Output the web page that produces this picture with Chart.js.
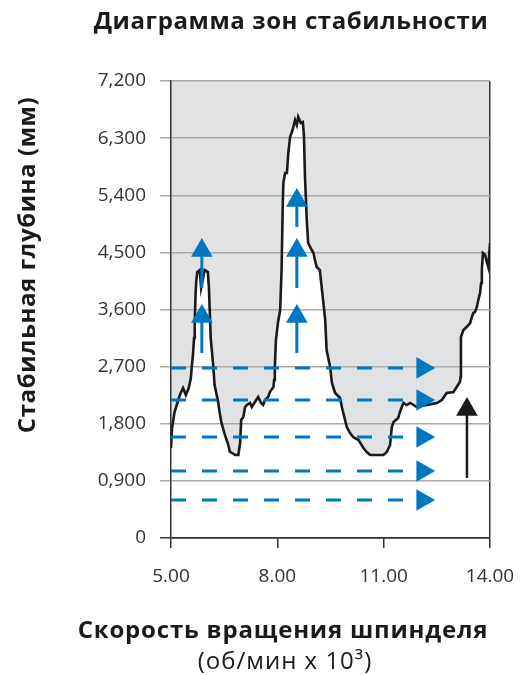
<!DOCTYPE html>
<html>
<head>
<meta charset="utf-8">
<script src="https://cdn.jsdelivr.net/npm/chart.js@4"></script>
<style>
  html, body { margin: 0; padding: 0; background: #fff; }
  #wrap { width: 522px; height: 675px; position: relative; }
</style>
</head>
<body>
<div id="wrap"><canvas id="chart"></canvas></div>
<script>
// values
const curveX = [5.00, 5.03, 5.10, 5.25, 5.34, 5.42, 5.50, 5.56, 5.59, 5.62, 5.65, 5.67, 5.69, 5.71, 5.74, 5.81, 5.85, 5.95, 6.04, 6.07,
  6.09, 6.12, 6.19, 6.23, 6.33, 6.37, 6.42, 6.52, 6.61, 6.66, 6.72, 6.81, 6.90, 6.95, 6.98, 7.04, 7.09, 7.14, 7.23, 7.28,
  7.37, 7.46, 7.54, 7.60, 7.65, 7.74, 7.79, 7.89, 7.91, 7.93, 7.96, 8.02, 8.08, 8.12, 8.15, 8.17, 8.22, 8.27, 8.31, 8.36,
  8.43, 8.50, 8.55, 8.59, 8.66, 8.72, 8.75, 8.78, 8.83, 8.87, 8.97, 9.02, 9.06, 9.11, 9.20, 9.25, 9.30, 9.35, 9.39, 9.49,
  9.54, 9.63, 9.77, 9.82, 9.91, 9.96, 10.05, 10.14, 10.29, 10.43, 10.52, 10.62, 10.99, 11.09, 11.18, 11.23, 11.28, 11.41, 11.46, 11.51,
  11.56, 11.65, 11.75, 11.93, 12.22, 12.50, 12.64, 12.78, 12.97, 13.06, 13.15, 13.17, 13.18, 13.25, 13.34, 13.44, 13.48, 13.53, 13.58, 13.63,
  13.67, 13.72, 13.75, 13.77, 13.80, 13.86, 13.91, 13.95, 13.98, 14.00];
const curveY = [1418, 1733, 1985, 2253, 2363, 2253, 2363, 2520, 2725, 2883, 3150, 3403, 3781, 4033, 4190, 4222, 3940, 4222, 4190, 3940,
  3623, 3150, 2725, 2410, 2143, 1985, 1828, 1623, 1480, 1360, 1339, 1308, 1308, 1497, 1859, 1906, 2064, 2095, 2127, 2064,
  2143, 2221, 2127, 2095, 2174, 2221, 2300, 2379, 2489, 2694, 3119, 3400, 3592, 4222, 5168, 5593, 5750, 5750, 6066, 6318,
  6428, 6585, 6507, 6633, 6538, 6554, 6349, 5687, 5010, 4648, 4537, 4490, 4380, 4270, 4222, 3955, 3702, 3435, 2962, 2694,
  2442, 2285, 2206, 2064, 1859, 1749, 1654, 1591, 1544, 1418, 1355, 1308, 1308, 1355, 1465, 1749, 1828, 1890, 1985, 2064,
  2127, 2095, 2127, 2064, 2095, 2127, 2174, 2285, 2300, 2379, 2458, 2537, 3167, 3277, 3324, 3387, 3466, 3545, 3561, 3639,
  3750, 3860, 4018, 4222, 4490, 4459, 4348, 4270, 4490, 4648];

const yTickValues = [0, 900, 1800, 2700, 3600, 4500, 5400, 6300, 7200];
const yTickLabels = ['0', '0,900', '1,800', '2,700', '3,600', '4,500', '5,400', '6,300', '7,200'];
const xTickValues = [5, 8, 11, 14];
const xTickLabels = ['5.00', '8.00', '11.00', '14.00'];

// blue dashed levels with arrow heads pointing right
const dashLevels = [2680, 2174, 1591, 1056, 599];
const dashEndX = 11.55;
const dashHeadX = 12.10;

// blue vertical arrows
const upArrowX = [5.87, 5.87, 8.55, 8.55, 8.55];
const upArrowTip = [4727, 3687, 5514, 4727, 3687];
const upArrowBase = [3939, 2915, 4900, 3939, 2915];

// black arrow
const blackArrowX = 13.35;
const blackArrowTip = 2221;
const blackArrowBase = 945;

const headDepth = 197; // distance from tip to head centre, in y units

const BLUE = '#0078c1';
const GREY_BG = '#e1e2e4';
const HEAD_R = 12.5;

const datasets = [];

dashLevels.forEach(v => {
  datasets.push({
    data: [{ x: 5, y: v }, { x: dashEndX, y: v }],
    borderColor: BLUE,
    borderWidth: 3,
    borderDash: [15, 16],
    pointRadius: 0,
    fill: false,
    order: 1
  });
});
datasets.push({
  data: dashLevels.map(v => ({ x: dashHeadX, y: v })),
  showLine: false,
  pointStyle: 'triangle',
  pointRotation: 90,
  pointRadius: HEAD_R,
  pointBackgroundColor: BLUE,
  pointBorderWidth: 0,
  order: 1
});

upArrowX.forEach((x, i) => {
  datasets.push({
    data: [{ x: x, y: upArrowBase[i] }, { x: x, y: upArrowTip[i] - headDepth }],
    borderColor: BLUE,
    borderWidth: 3,
    pointRadius: 0,
    fill: false,
    order: 1
  });
});
datasets.push({
  data: upArrowX.map((x, i) => ({ x: x, y: upArrowTip[i] - headDepth })),
  showLine: false,
  pointStyle: 'triangle',
  pointRadius: HEAD_R,
  pointBackgroundColor: BLUE,
  pointBorderWidth: 0,
  order: 1
});

datasets.push({
  data: [{ x: blackArrowX, y: blackArrowBase }, { x: blackArrowX, y: blackArrowTip - headDepth }],
  borderColor: '#1a1a1a',
  borderWidth: 2.5,
  pointRadius: [0, HEAD_R],
  pointStyle: 'triangle',
  pointBackgroundColor: '#1a1a1a',
  pointBorderWidth: 0,
  fill: false,
  order: 1
});

// stability curve: grey above, white below
datasets.push({
  data: curveX.map((x, i) => ({ x: x, y: curveY[i] })),
  borderColor: '#1a1a1a',
  borderWidth: 2.6,
  pointRadius: 0,
  tension: 0,
  backgroundColor: GREY_BG,
  fill: { value: 7200 },
  order: 10
});

const textPlugin = {
  id: 'texts',
  afterDraw(chart) {
    const ctx = chart.ctx;
    ctx.save();
    ctx.fillStyle = '#1a1a1a';
    ctx.textAlign = 'center';
    ctx.textBaseline = 'middle';
    ctx.font = 'bold 24px "Open Sans"';
    ctx.letterSpacing = '0.6px';
    ctx.fillText('Диаграмма зон стабильности', 291, 22);
    ctx.letterSpacing = '0.8px';
    ctx.fillText('Скорость вращения шпинделя', 283, 631);
    ctx.font = '24px "Open Sans"';
    ctx.letterSpacing = '1px';
    ctx.fillText('(об/мин x 10³)', 285, 662);
    ctx.translate(28, 265);
    ctx.rotate(-Math.PI / 2);
    ctx.font = 'bold 24px "Open Sans"';
    ctx.letterSpacing = '0.6px';
    ctx.fillText('Стабильная глубина (мм)', 0, 0);
    ctx.restore();
  }
};

new Chart(document.getElementById('chart'), {
  type: 'line',
  data: { datasets: datasets },
  options: {
    responsive: true,
    maintainAspectRatio: false,
    animation: false,
    layout: { padding: { left: 0, top: 81, right: 32, bottom: 0 } },
    plugins: {
      legend: { display: false },
      tooltip: { enabled: false },
      filler: { drawTime: 'beforeDraw' }
    },
    scales: {
      x: {
        type: 'linear',
        min: 5,
        max: 14,
        afterFit: s => { s.height = 137; s.paddingLeft = 0; s.paddingRight = 0; },
        afterBuildTicks: s => { s.ticks = xTickValues.map(v => ({ value: v })); },
        ticks: {
          color: '#333',
          font: { family: 'Open Sans', size: 19 },
          padding: 17,
          maxRotation: 0,
          callback: (v) => xTickLabels[xTickValues.indexOf(v)]
        },
        grid: {
          color: c => (c.tick && c.tick.value === 14) ? '#333' : 'rgba(0,0,0,0)',
          tickColor: '#333',
          lineWidth: 1.5,
          tickLength: 10
        },
        border: { color: '#333', width: 1.5 }
      },
      y: {
        min: 0,
        max: 7200,
        afterFit: s => { s.width = 171; s.paddingTop = 0; s.paddingBottom = 0; },
        afterBuildTicks: s => { s.ticks = yTickValues.map(v => ({ value: v })); },
        ticks: {
          color: '#333',
          font: { family: 'Open Sans', size: 19 },
          padding: 14,
          callback: (v) => yTickLabels[yTickValues.indexOf(v)]
        },
        grid: {
          color: c => (c.tick && c.tick.value === 0) ? '#333' : '#aaaaaa',
          lineWidth: 1.5,
          tickLength: 11
        },
        border: { color: '#333', width: 1.5 }
      }
    }
  },
  plugins: [textPlugin]
});
</script>
</body>
</html>
